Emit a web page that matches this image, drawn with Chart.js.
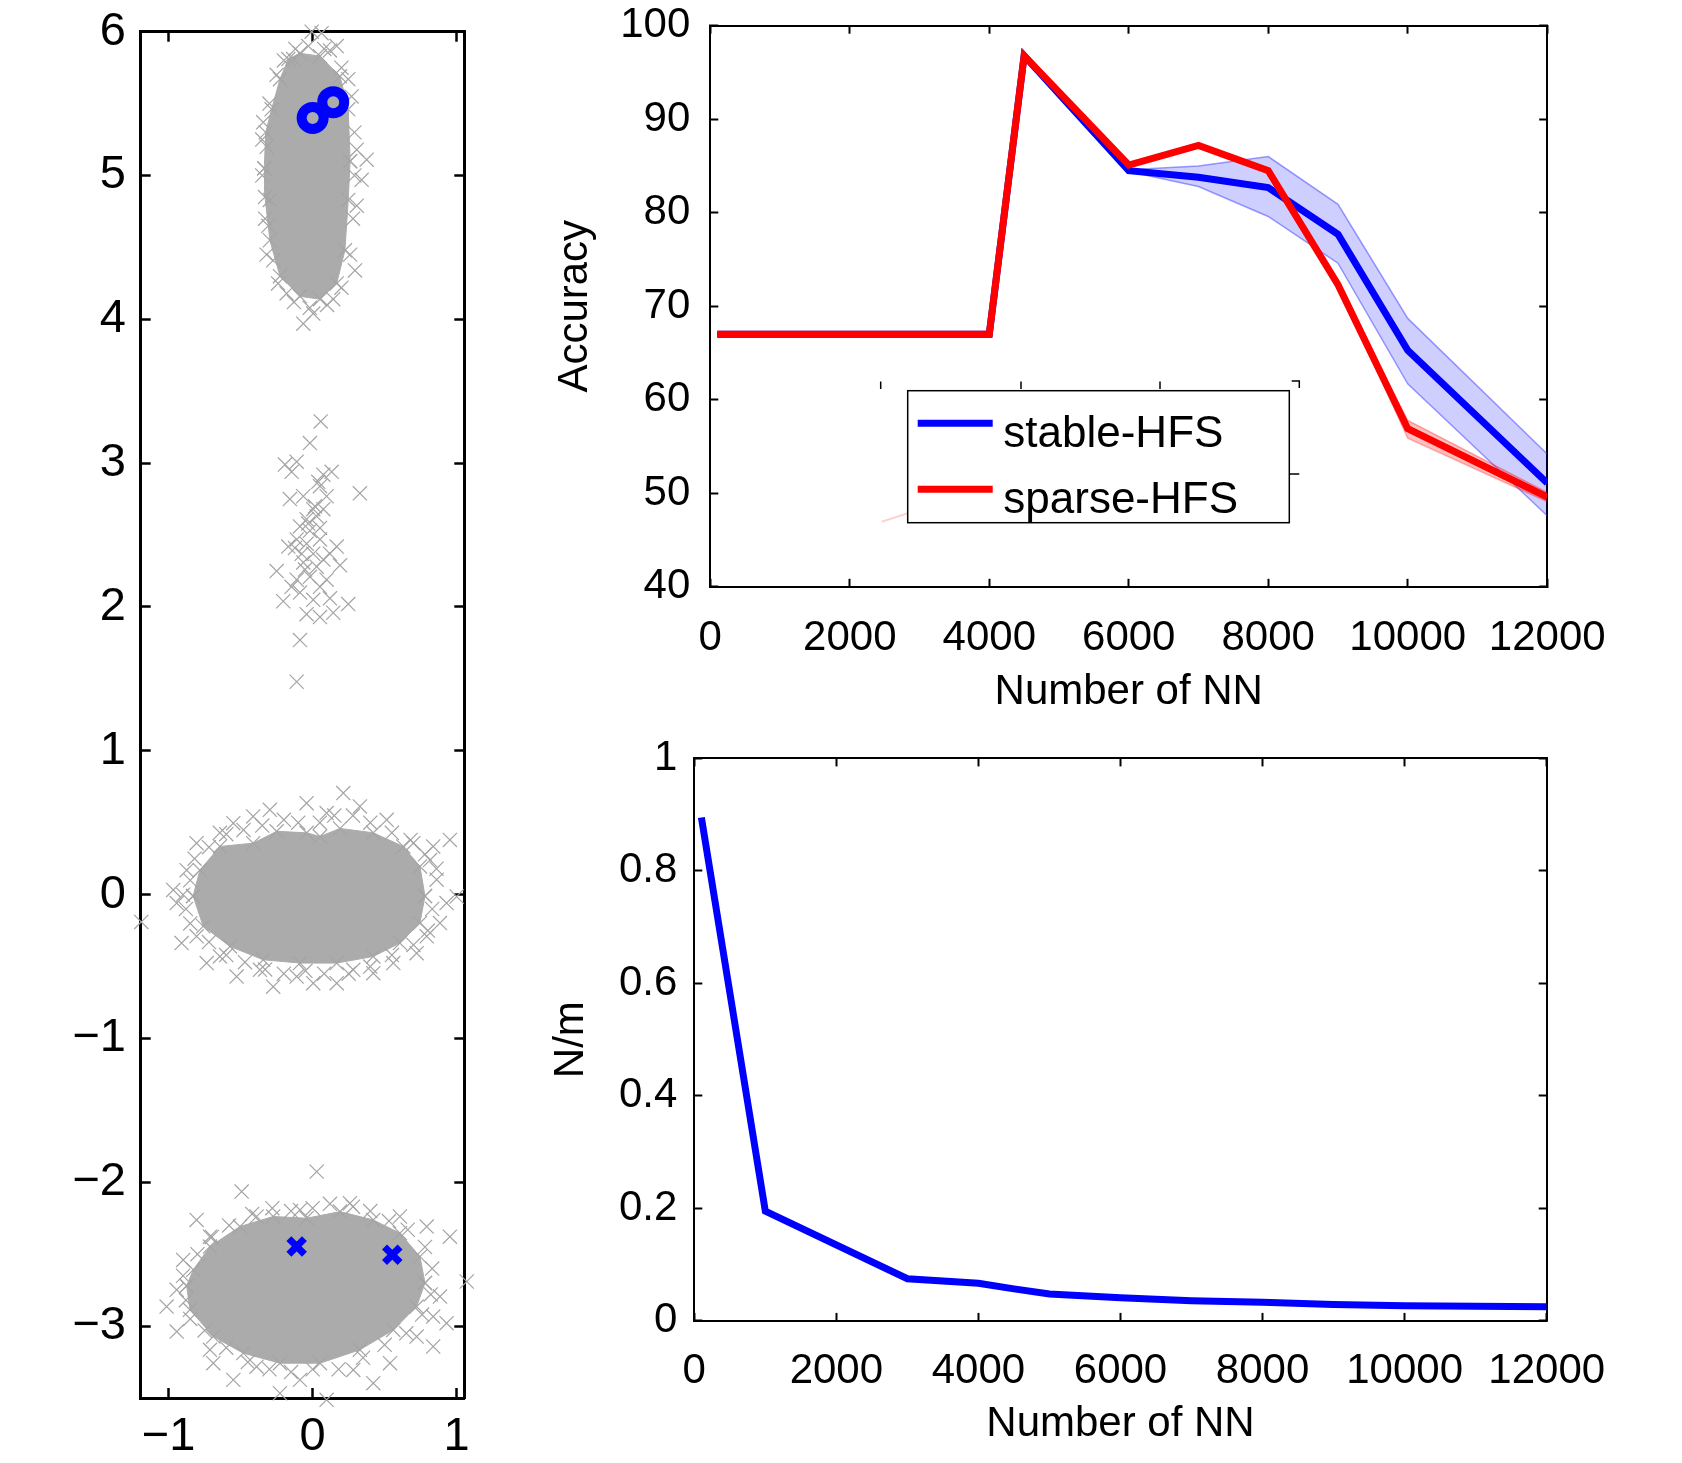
<!DOCTYPE html>
<html>
<head>
<meta charset="utf-8">
<script src="https://cdn.jsdelivr.net/npm/chart.js@4.4.1/dist/chart.umd.min.js"></script>
<style>
body { margin: 0; background: #fff; width: 1682px; height: 1463px; position: relative; overflow: hidden; }
canvas { position: absolute; }
</style>
</head>
<body>
<canvas id="scatter" width="500" height="1463" style="left:0;top:0"></canvas>
<canvas id="acc" width="1182" height="730" style="left:500px;top:0"></canvas>
<canvas id="ratio" width="1182" height="733" style="left:500px;top:730px"></canvas>
<script>
// ----------------------------------------------------------------------
// left panel: the three clusters (core outlines + stray crosses)
const topCoreUpper = [[-0.336,5.05],[-0.326,5.30],[-0.285,5.46],[-0.227,5.67],[-0.169,5.81],[-0.088,5.85],[0.051,5.83],[0.190,5.69],[0.247,5.46],[0.260,5.10]]
const topCoreLower = [[-0.336,5.05],[-0.331,4.85],[-0.297,4.55],[-0.227,4.30],[-0.088,4.16],[0.051,4.14],[0.167,4.25],[0.224,4.48],[0.247,4.83],[0.260,5.10]]
const centreCoreUpper = [[-0.83,-0.01],[-0.783,0.17],[-0.644,0.335],[-0.413,0.358],[-0.25,0.44],[-0.042,0.43],[0.051,0.404],[0.19,0.46],[0.421,0.43],[0.629,0.335],[0.745,0.196],[0.78,-0.01]]
const centreCoreLower = [[-0.83,-0.01],[-0.76,-0.22],[-0.574,-0.36],[-0.343,-0.453],[-0.088,-0.476],[0.167,-0.476],[0.421,-0.43],[0.606,-0.337],[0.745,-0.198],[0.78,-0.01]]
const bottomCoreUpper = [[-0.875,-2.72],[-0.829,-2.609],[-0.713,-2.447],[-0.505,-2.308],[-0.274,-2.238],[-0.042,-2.25],[0.19,-2.204],[0.421,-2.262],[0.606,-2.354],[0.745,-2.517],[0.78,-2.70]]
const bottomCoreLower = [[-0.875,-2.72],[-0.852,-2.887],[-0.69,-3.073],[-0.482,-3.188],[-0.227,-3.258],[0.051,-3.258],[0.328,-3.165],[0.56,-3.027],[0.722,-2.864],[0.78,-2.70]]

// crosses crowding the edge of each core
const topRing = [[-0.35,5.0],[-0.35,5.25],[-0.33,4.7],[-0.3,5.5],[-0.25,5.7],[-0.2,5.8],[-0.12,5.88],[-0.03,5.9],[0.08,5.88],[0.2,5.75],[0.27,5.55],[0.29,5.3],[0.29,5.0],[0.28,4.7],[0.26,4.45],[0.2,4.22],[0.1,4.1],[-0.02,4.08],[-0.13,4.12],[-0.24,4.25],[-0.32,4.45]]
const centreRing = [[-0.85,0.1],[-0.88,-0.1],[-0.82,0.25],[-0.72,0.33],[-0.6,0.42],[-0.48,0.45],[-0.35,0.48],[-0.2,0.52],[-0.1,0.5],[0.05,0.5],[0.15,0.55],[0.28,0.55],[0.4,0.5],[0.55,0.43],[0.68,0.38],[0.78,0.28],[0.86,0.18],[0.83,-0.1],[0.8,-0.25],[0.7,-0.35],[0.55,-0.42],[0.4,-0.5],[0.25,-0.55],[0.08,-0.55],[-0.05,-0.53],[-0.2,-0.55],[-0.33,-0.52],[-0.47,-0.47],[-0.6,-0.42],[-0.72,-0.33],[-0.85,-0.2],[-0.9,0.0]]
const bottomRing = [[-0.9,-2.65],[-0.88,-2.82],[-0.8,-2.5],[-0.7,-2.38],[-0.58,-2.3],[-0.42,-2.22],[-0.28,-2.18],[-0.15,-2.2],[0.0,-2.18],[0.12,-2.15],[0.28,-2.17],[0.4,-2.2],[0.53,-2.27],[0.66,-2.33],[0.78,-2.45],[0.83,-2.6],[0.82,-2.78],[0.76,-2.92],[0.65,-3.05],[0.5,-3.13],[0.35,-3.22],[0.18,-3.3],[0.0,-3.3],[-0.15,-3.32],[-0.3,-3.3],[-0.45,-3.25],[-0.6,-3.15],[-0.75,-3.03],[-0.85,-2.95]]

const topStray = [[-0.007,6.0],[0.062,5.99],[0.12,5.87],[0.167,5.9],[0.247,5.67],[-0.135,5.81],[-0.343,5.37],[0.375,5.11],[0.34,4.97],[0.306,4.79],[0.306,5.18],[0.294,4.34],[-0.274,4.41],[-0.297,4.83],[-0.319,5.2],[-0.308,4.65],[-0.065,3.97],[0.004,4.04],[0.143,4.14],[-0.181,4.18]]
const midStray = [[0.056,3.29],[-0.019,3.14],[-0.192,2.99],[-0.111,3.01],[-0.146,2.94],[0.074,2.92],[0.132,2.94],[0.328,2.79],[-0.158,2.75],[-0.065,2.77],[0.051,2.84],[0.097,2.77],[0.004,2.68],[-0.042,2.61],[-0.088,2.56],[0.028,2.63],[0.074,2.68],[-0.111,2.47],[-0.169,2.42],[-0.042,2.44],[0.051,2.47],[0.167,2.42],[0.12,2.37],[-0.25,2.25],[-0.065,2.31],[0.028,2.28],[0.19,2.29],[-0.111,2.19],[-0.019,2.21],[0.097,2.19],[-0.204,2.04],[-0.088,2.10],[0.004,2.05],[0.12,2.06],[0.247,2.02],[-0.042,1.95],[0.051,1.93],[0.143,1.96],[-0.088,1.77],[-0.111,1.48],[0.039,2.87],[0.016,2.70],[-0.031,2.58],[-0.123,2.41],[0.004,2.37],[0.074,2.33],[-0.076,2.37],[-0.019,2.53],[0.051,2.55],[-0.053,2.26],[-0.146,2.14],[0.051,2.14]]
const centreStray = [[0.213,0.706],[-0.042,0.636],[-0.297,0.59],[-0.551,0.497],[-0.806,0.358],[-0.968,0.033],[-1.19,-0.19],[-0.91,-0.337],[-0.736,-0.476],[-0.528,-0.57],[-0.274,-0.64],[0.004,-0.616],[0.167,-0.616],[0.421,-0.546],[0.722,-0.407],[0.884,-0.198],[0.93,-0.059],[1.0,-0.013],[0.953,0.38],[0.837,0.335],[0.699,0.358],[0.514,0.52],[0.328,0.613],[0.097,0.567],[-0.413,0.544],[-0.644,0.43],[-0.875,0.17],[-0.944,-0.059],[-0.806,-0.29],[-0.644,-0.43],[-0.366,-0.523],[-0.111,-0.57],[0.282,-0.523],[0.56,-0.476],[0.792,-0.29],[0.861,0.104],[0.815,0.24]]
const bottomStray = [[0.028,-1.926],[-0.493,-2.065],[-0.806,-2.262],[-1.014,-2.864],[-0.944,-3.038],[-0.69,-3.258],[-0.551,-3.374],[-0.227,-3.467],[0.097,-3.513],[0.421,-3.397],[0.837,-3.142],[0.93,-2.98],[1.07,-2.69],[0.953,-2.378],[0.792,-2.308],[0.606,-2.238],[0.259,-2.146],[-0.088,-2.192],[-0.389,-2.238],[-0.713,-2.378],[-0.899,-2.54],[0.837,-2.934],[0.722,-3.073],[0.537,-3.258],[0.282,-3.305],[-0.088,-3.374],[-0.389,-3.282],[-0.713,-3.165],[-0.944,-2.748],[0.884,-2.795]]

const selectedTop = [[0.0,5.40],[0.143,5.51]]
const selectedBottom = [[-0.111,-2.446],[0.553,-2.504]]

const scatterXTicks = [-1, 0, 1]
const scatterYTicks = [-3, -2, -1, 0, 1, 2, 3, 4, 5, 6]

// top right: accuracy vs number of NN
const accLabels = ["stable-HFS", "sparse-HFS"]
const nnAcc     = [100, 4000, 4500, 6000, 7000, 8000, 9000, 10000, 12000]
const stableAcc = [67.0, 67.0, 96.8, 84.5, 83.8, 82.7, 77.7, 65.3, 51.1]
const stableHi  = [67.0, 67.0, 96.8, 84.6, 85.0, 86.0, 80.9, 68.7, 54.2]
const stableLo  = [67.0, 67.0, 96.8, 84.4, 82.8, 79.6, 74.6, 61.7, 47.6]
const sparseAcc = [67.0, 67.0, 96.8, 85.1, 87.2, 84.5, 72.3, 56.9, 49.6]
const sparseHi  = [67.0, 67.0, 96.8, 85.1, 87.2, 84.5, 72.3, 57.8, 50.1]
const sparseLo  = [67.0, 67.0, 96.8, 85.1, 87.2, 84.5, 72.3, 55.9, 49.1]
const accXTicks = [0, 2000, 4000, 6000, 8000, 10000, 12000]
const accYTicks = [40, 50, 60, 70, 80, 90, 100]

// bottom right: N/m vs number of NN
const nnRatio = [100, 1000, 3000, 4000, 4500, 5000, 6000, 7000, 8000, 9000, 10000, 12000]
const ratio   = [0.895, 0.195, 0.075, 0.067, 0.057, 0.048, 0.041, 0.036, 0.033, 0.029, 0.027, 0.025]
const ratioYTicks = [0, 0.2, 0.4, 0.6, 0.8, 1]

// ----------------------------------------------------------------------
const FONT = "'Liberation Sans', Arial, Helvetica, sans-serif"
const BLUE = '#0000ff'
const RED = '#ff0000'
const GREY = '#ababab'

const fmt = v => v < 0 ? '\u2212' + Math.abs(v) : String(v)
const pts = a => a.map(p => ({x: p[0], y: p[1]}))
const zip = (xs, ys) => xs.map((x, i) => ({x: x, y: ys[i]}))

// MATLAB style box: ticks pointing inwards on all four sides
function makeAxis(position, min, max, tickValues, size, o) {
    const horizontal = position === 'top' || position === 'bottom'
    const main = position === 'left' || position === 'bottom'
    return {
        type: 'linear', position: position, min: min, max: max,
        afterBuildTicks: s => { s.ticks = tickValues.map(v => ({value: v})) },
        afterFit: s => {
            if (horizontal) s.height = size; else s.width = size
            s.paddingTop = 0; s.paddingBottom = 0; s.paddingLeft = 0; s.paddingRight = 0
        },
        border: {display: true, color: '#000', width: o.border},
        grid: {drawOnChartArea: false, drawTicks: true, tickLength: -o.tick,
               color: '#000', tickColor: '#000', tickWidth: o.tickWidth},
        ticks: {display: main, autoSkip: false, maxRotation: 0, color: '#000',
                padding: horizontal ? o.xPad : o.yPad,
                font: {family: FONT, size: o.font}, callback: fmt},
        title: {display: main && !!o.title, text: main ? (horizontal ? o.title && o.title[0] : o.title && o.title[1]) : '',
                color: '#000', padding: 0, font: {family: FONT, size: o.font}}
    }
}

function boxScales(xr, yr, xt, yt, xh, yw, o) {
    return {
        x:  makeAxis('bottom', xr[0], xr[1], xt, xh, o),
        y:  makeAxis('left',   yr[0], yr[1], yt, yw, o),
        x2: makeAxis('top',    xr[0], xr[1], xt, 0, o),
        y2: makeAxis('right',  yr[0], yr[1], yt, 0, o)
    }
}

const common = {
    responsive: false, animation: false, devicePixelRatio: 1,
    plugins: {legend: {display: false}, tooltip: {enabled: false}}
}

// ----------------------------------------------------------------------
function core(data, fill) {
    return {type: 'line', data: pts(data), showLine: true, pointRadius: 0,
            borderColor: GREY, borderWidth: 1, backgroundColor: GREY, fill: fill}
}

const strayAll = [].concat(topStray, midStray, centreStray, bottomStray, topRing, centreRing, bottomRing,
    topCoreUpper, topCoreLower, centreCoreUpper, centreCoreLower, bottomCoreUpper, bottomCoreLower)

new Chart(document.getElementById('scatter'), {
    type: 'scatter',
    data: {datasets: [
        {data: pts(selectedBottom), pointStyle: 'crossRot', pointRadius: 11, borderWidth: 7,
         borderColor: BLUE, clip: false},
        {data: pts(selectedTop), pointStyle: 'circle', pointRadius: 11, borderWidth: 10,
         borderColor: BLUE, backgroundColor: 'rgba(0,0,0,0)', clip: false},
        {data: pts(strayAll), pointStyle: 'crossRot', pointRadius: 10, borderWidth: 1.2,
         borderColor: '#a4a4a4', clip: false},
        core(topCoreUpper, false), core(topCoreLower, '-1'),
        core(centreCoreUpper, false), core(centreCoreLower, '-1'),
        core(bottomCoreUpper, false), core(bottomCoreLower, '-1')
    ]},
    options: Object.assign({}, common, {
        layout: {padding: {left: 0, top: 31.7, right: 35.7, bottom: 0}},
        scales: boxScales([-1.194, 1.053], [-3.5, 6], scatterXTicks, scatterYTicks, 65, 140.7,
            {border: 3, tick: 10, tickWidth: 2.5, font: 47, xPad: 21.3, yPad: 24.7})
    })
})

// ----------------------------------------------------------------------
const legendPlugin = {
    id: 'hfsLegend',
    afterDraw(chart) {
        const ctx = chart.ctx
        ctx.save()
        // left-overs of a hidden axes behind the legend
        ctx.strokeStyle = '#000'
        ctx.lineWidth = 1.5
        ctx.beginPath()
        ;[380.7, 521, 660].forEach(x => { ctx.moveTo(x, 381.5); ctx.lineTo(x, 389) })
        ctx.moveTo(791.7, 381); ctx.lineTo(799.3, 381); ctx.lineTo(799.3, 388)
        ctx.moveTo(790, 474); ctx.lineTo(799.3, 474)
        ctx.stroke()
        ctx.strokeStyle = 'rgba(255,0,0,0.18)'
        ctx.lineWidth = 2
        ctx.beginPath(); ctx.moveTo(381.7, 521.7); ctx.lineTo(410, 512.5); ctx.stroke()

        const box = {x: 407.7, y: 390.7, w: 381.6, h: 132}
        ctx.fillStyle = '#fff'
        ctx.fillRect(box.x, box.y, box.w, box.h)
        ctx.strokeStyle = '#000'
        ctx.lineWidth = 1.5
        ctx.strokeRect(box.x, box.y, box.w, box.h)

        const ds = chart.data.datasets
        const rows = [{d: ds[1], y: 423.3, base: 446.5}, {d: ds[0], y: 489.3, base: 512.5}]
        ctx.font = '44px ' + FONT
        ctx.textBaseline = 'alphabetic'
        ctx.textAlign = 'left'
        rows.forEach(r => {
            ctx.strokeStyle = r.d.borderColor
            ctx.lineWidth = 7
            ctx.beginPath(); ctx.moveTo(417.7, r.y); ctx.lineTo(492.7, r.y); ctx.stroke()
            ctx.fillStyle = '#000'
            ctx.fillText(r.d.label, 503.3, r.base)
        })
        ctx.restore()
    }
}

function band(data, color, fill) {
    return {data: data, borderColor: color, borderWidth: 1.5, pointRadius: 0,
            backgroundColor: fill ? fill : 'rgba(0,0,0,0)', fill: fill ? '-1' : false}
}

new Chart(document.getElementById('acc'), {
    type: 'line',
    data: {datasets: [
        {label: accLabels[1], data: zip(nnAcc, sparseAcc), borderColor: RED, borderWidth: 7, pointRadius: 0},
        {label: accLabels[0], data: zip(nnAcc, stableAcc), borderColor: BLUE, borderWidth: 7, pointRadius: 0},
        band(zip(nnAcc, sparseHi), 'rgba(255,0,0,0.3)'),
        band(zip(nnAcc, sparseLo), 'rgba(255,0,0,0.3)', 'rgba(255,0,0,0.25)'),
        band(zip(nnAcc, stableHi), 'rgba(60,60,255,0.5)'),
        band(zip(nnAcc, stableLo), 'rgba(60,60,255,0.5)', 'rgba(0,0,255,0.19)')
    ]},
    options: Object.assign({}, common, {
        layout: {padding: {left: 50, top: 25.7, right: 134.8, bottom: 12.8}},
        scales: boxScales([0, 12000], [40, 100], accXTicks, accYTicks, 130.4, 160.3,
            {border: 2, tick: 8, tickWidth: 2, font: 42, xPad: 34.5, yPad: 28,
             title: ['Number of NN', 'Accuracy']})
    }),
    plugins: [legendPlugin]
})

// ----------------------------------------------------------------------
new Chart(document.getElementById('ratio'), {
    type: 'line',
    data: {datasets: [
        {data: zip(nnRatio, ratio), borderColor: BLUE, borderWidth: 7, pointRadius: 0}
    ]},
    options: Object.assign({}, common, {
        layout: {padding: {left: 46.5, top: 28.4, right: 135.3, bottom: 13.2}},
        scales: boxScales([0, 12000], [0, 1], accXTicks, ratioYTicks, 128.9, 147.8,
            {border: 2, tick: 8, tickWidth: 2, font: 42, xPad: 33, yPad: 25,
             title: ['Number of NN', 'N/m']})
    })
})
</script>
</body>
</html>
